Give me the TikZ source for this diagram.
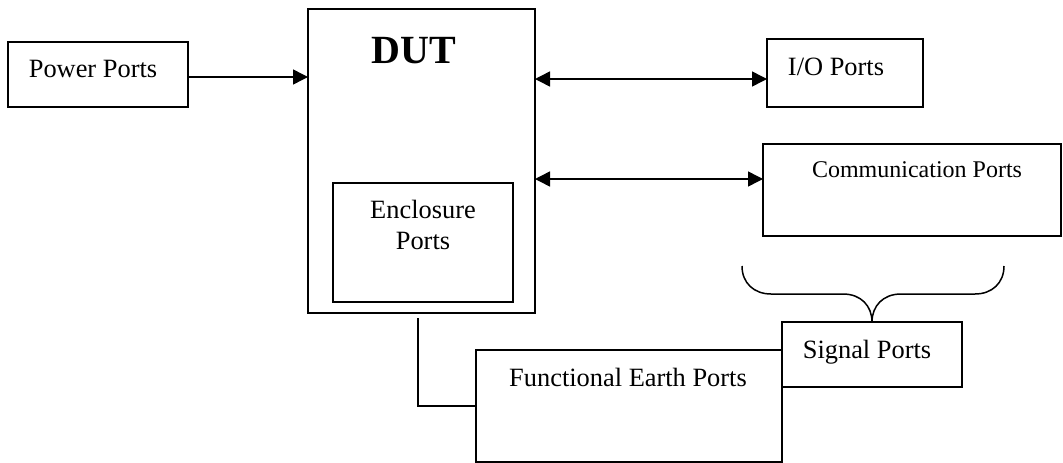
\documentclass[tikz,border=0pt]{standalone}
\usepackage{fontspec}
\setmainfont{Liberation Serif}
\usetikzlibrary{arrows.meta}

\tikzset{
  box/.style={draw, line width=1.5pt, fill=white, rectangle, inner sep=0pt, outer sep=0pt},
  lbl/.style={anchor=base, inner sep=0pt, font=\fontsize{26.4}{30}\selectfont},
  conn/.style={line width=1.5pt},
  tip/.style={-{Triangle[length=15pt,width=15pt]}},
  bitip/.style={{Triangle[length=15pt,width=15pt]}-{Triangle[length=15pt,width=15pt]}}
}

\begin{document}
\begin{tikzpicture}[x=1pt,y=-1pt]
  \useasboundingbox (0,0) rectangle (1063,463);

  % boxes (centre, width, height)
  \node[box, minimum width=180pt, minimum height=65pt]  (power)  at (98,74.5)    {};
  \node[box, minimum width=227pt, minimum height=304pt] (dut)    at (421.5,161)  {};
  \node[box, minimum width=180pt, minimum height=119pt] (encl)   at (423,242.5)  {};
  \node[box, minimum width=156pt, minimum height=68pt]  (io)     at (845,73)     {};
  \node[box, minimum width=298pt, minimum height=92pt]  (comm)   at (912,190)    {};
  \node[box, minimum width=306pt, minimum height=112pt] (fe)     at (629,406)    {};
  \node[box, minimum width=180pt, minimum height=65pt]  (signal) at (872,354.5)  {};

  % labels
  \node[lbl] at (93,77) {Power Ports};
  \node[anchor=base, inner sep=0pt, font=\bfseries\fontsize{40}{44}\selectfont] at (414,63) {DUT};
  \node[lbl] at (423,218) {Enclosure};
  \node[lbl] at (423,249) {Ports};
  \node[lbl] at (836,75) {I/O Ports};
  \node[anchor=base, inner sep=0pt, font=\fontsize{24}{28}\selectfont] at (917,177) {Communication Ports};
  \node[lbl] at (867,358) {Signal Ports};
  \node[lbl] at (628,386) {Functional Earth Ports};

  % connectors
  \draw[conn, tip] (power.east |- 0,77) -- (dut.west |- 0,77);
  \draw[conn, bitip] (dut.east |- 0,79) -- (io.west |- 0,79);
  \draw[conn, bitip] (dut.east |- 0,179) -- (comm.west |- 0,179);

  \coordinate (tap) at (418,318);
  \draw[conn] (tap) |- (fe.west);

  % brace grouping the I/O-side ports into signal ports
  \draw[conn] (742,266) .. controls (742,283) and (754,294) .. (771,294)
              -- (843,294) .. controls (861,294) and (872,306) .. (signal.north);
  \draw[conn] (signal.north) .. controls (872,306) and (883,294) .. (901,294)
              -- (975,294) .. controls (992,294) and (1004,283) .. (1004,266);
\end{tikzpicture}
\end{document}
